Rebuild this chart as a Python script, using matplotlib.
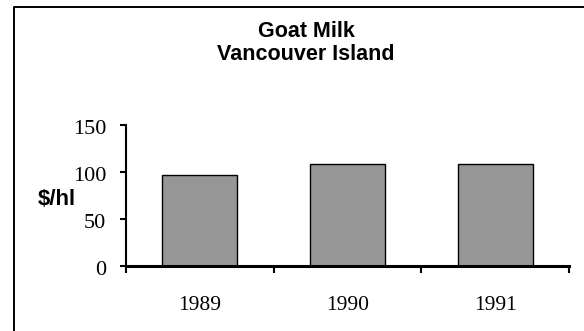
import matplotlib

matplotlib.use("Agg")
import matplotlib.pyplot as plt
from matplotlib.lines import Line2D

years = ["1989", "1990", "1991"]
price = [97, 109, 109]          # $/hl
yticks = [0, 50, 100, 150]

W, H, DPI = 584, 331, 100
SERIF = "Liberation Serif"
SANS = "Liberation Sans"

fig = plt.figure(figsize=(W / DPI, H / DPI), dpi=DPI, facecolor="white")

# plot area in pixel terms: x 126..569, y 125..266 (from top)
AX_L, AX_R, AX_T, AX_B = 126, 569, 125, 266
ax = fig.add_axes([AX_L / W, 1 - AX_B / H, (AX_R - AX_L) / W, (AX_B - AX_T) / H])
ax.set_facecolor("white")

xs = list(range(len(years)))
ax.bar(xs, price, width=0.51, color="#969696", edgecolor="black", linewidth=1.0, zorder=2)

ax.set_xlim(-0.5, len(years) - 0.5)
ax.set_ylim(0, 150)

ax.spines["top"].set_visible(False)
ax.spines["right"].set_visible(False)
ax.spines["left"].set_linewidth(1.5)
ax.spines["bottom"].set_linewidth(2.2)
ax.spines["bottom"].set_zorder(3)

# value axis: ticks outward, labels placed by hand a little below each tick
ax.set_yticks(yticks)
ax.set_yticklabels([])
ax.tick_params(axis="y", direction="out", length=4.5, width=1.5)
for v in yticks:
    ax.annotate(str(v), xy=(-20 / (AX_R - AX_L), v), xycoords=ax.get_yaxis_transform(),
                xytext=(0, -3), textcoords="offset points", ha="right", va="center",
                fontfamily=SERIF, fontsize=16)

# category ticks sit on the boundaries, labels in the middle
ax.set_xticks([x - 0.5 for x in xs] + [len(years) - 0.5])
ax.set_xticklabels([])
ax.tick_params(axis="x", direction="out", length=5, width=1.5)
for x, y in zip(xs, years):
    ax.text(x, -37 / (AX_B - AX_T), y, transform=ax.get_xaxis_transform(), ha="center",
            va="center_baseline", fontfamily=SERIF, fontsize=15.5)

fig.text(57 / W, 1 - 197 / H, "$/hl", ha="center", va="center_baseline",
         fontfamily=SANS, fontweight="bold", fontsize=16)

fig.text(306 / W, 1 - 29 / H, "Goat Milk", ha="center", va="center_baseline",
         fontfamily=SANS, fontweight="bold", fontsize=15.5)
fig.text(306 / W, 1 - 52 / H, "Vancouver Island", ha="center", va="center_baseline",
         fontfamily=SANS, fontweight="bold", fontsize=15.5)

# chart frame: only its left and top edges fall inside the image
fig.add_artist(Line2D([13.5 / W, 13.5 / W, 1.02], [-0.02, 1 - 7 / H, 1 - 7 / H],
                      transform=fig.transFigure, color="black", linewidth=1.4))

fig.savefig("out.png", dpi=DPI, facecolor="white")
